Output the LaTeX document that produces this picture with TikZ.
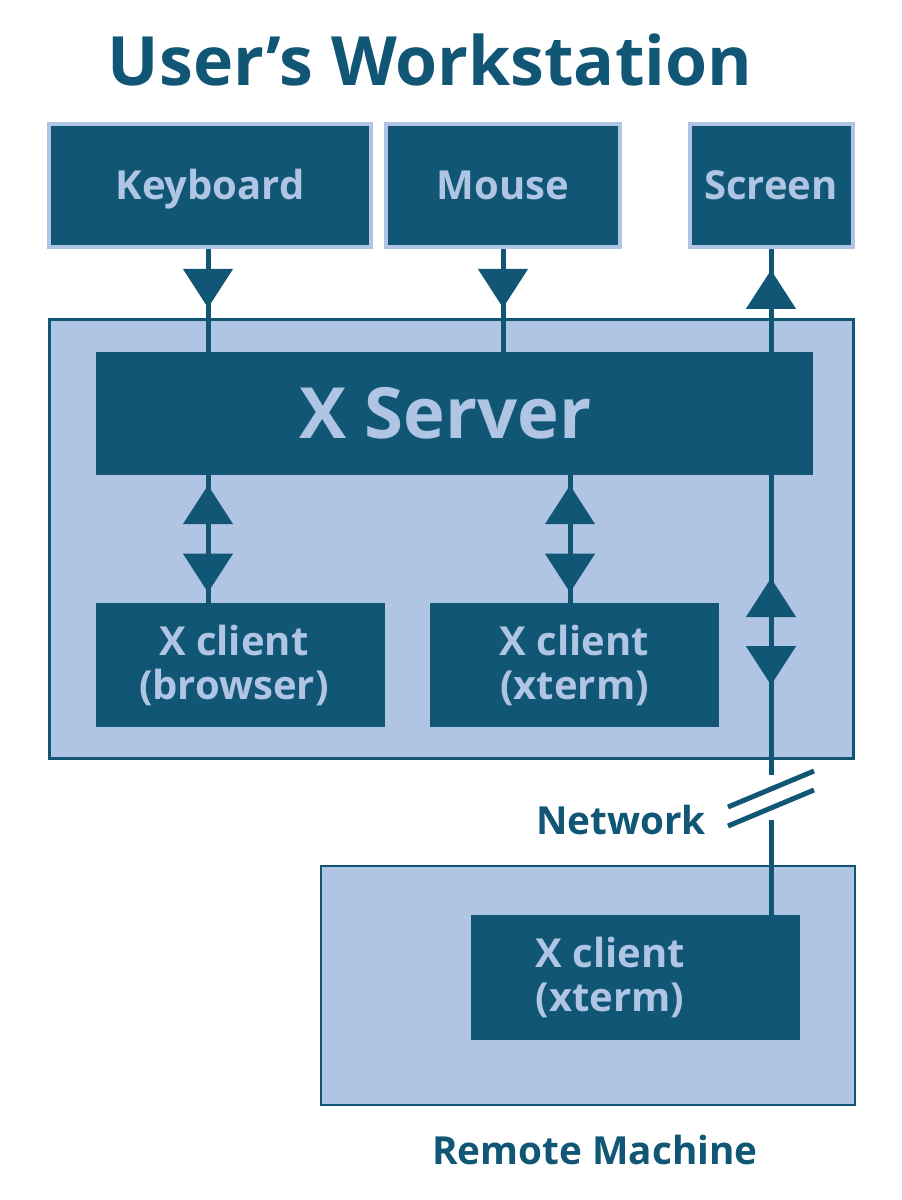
\documentclass[tikz,border=0pt]{standalone}
\usepackage{fontspec}
\setmainfont{Open Sans}
\usetikzlibrary{arrows.meta}
\usetikzlibrary{decorations.markings}
\usetikzlibrary{calc}

\definecolor{xdark}{RGB}{17,86,117}
\definecolor{xlight}{RGB}{176,196,228}

\tikzset{
	device/.style={draw=xlight, line width=3pt, fill=xdark, text=xlight, inner sep=0pt,
		font=\bfseries\fontsize{30}{33}\selectfont, minimum height=92.25pt,
		text height=21.5pt, text depth=0pt},
	inbox/.style={fill=xdark, text=xlight, inner sep=0pt, align=center,
		font=\bfseries\fontsize{30}{33}\selectfont},
	machine/.style={draw=xdark, fill=xlight, inner sep=0pt},
	caption/.style={text=xdark, inner sep=0pt, font=\bfseries\fontsize{29}{31}\selectfont},
	wire/.style={draw=xdark, line width=3.75pt},
	tipat/.style={postaction={decorate, decoration={markings,
		mark=at position #1 with {\arrow[xdark]{Triangle[length=29.25pt,width=36.75pt]}}}}},
	tipback/.style={postaction={decorate, decoration={markings,
		mark=at position #1 with {\arrowreversed[xdark]{Triangle[length=29.25pt,width=36.75pt]}}}}},
}

\begin{document}
\begin{tikzpicture}[x=0.75pt, y=-0.75pt]
	
	\useasboundingbox (0,0) rectangle (901,1200);
	
	\coordinate (lx) at (208,0);
	\coordinate (rx) at (570,0);
	\coordinate (netA) at (771,775);
	\coordinate (netB) at (771,820);
	
	% Titulo
	\node [caption, font=\bfseries\fontsize{51}{56}\selectfont] (title) at (430,60) {User’s Workstation};
	
	% Os dispositivos
	\node [device, minimum width=241.5pt] (kbd) at (210,185.5) {Keyboard};
	\node [device, minimum width=175.5pt] (mse) at (503,185.5) {Mouse};
	\node [device, minimum width=122.25pt] (scr) at (771,185.5) {Screen};
	
	% A estacao de trabalho
	\node [machine, line width=2.25pt, minimum width=603pt, minimum height=329.25pt] (ws) at (451.5,539) {};
	\node [inbox, minimum width=537.75pt, minimum height=92.25pt,
		label={[inbox, font=\bfseries\fontsize{53}{58}\selectfont, xshift=-7pt]center:X Server}] (xs) at (454.5,413.5) {};
	\node [inbox, minimum width=216.75pt, minimum height=93pt,
		label={[inbox, xshift=-5pt]center:{X client\\(browser)}}] (brw) at (240.5,665) {};
	\node [inbox, minimum width=216.75pt, minimum height=93pt] (xtm) at (574.5,665) {X client\\(xterm)};
	
	% A maquina remota
	\node [machine, line width=1.5pt, minimum width=400.5pt, minimum height=179.25pt] (rm) at (587.5,985) {};
	\node [inbox, minimum width=246.75pt, minimum height=93.75pt,
		label={[inbox, xshift=-19pt]center:{X client\\(xterm)}}] (rcl) at (635.5,977.5) {};
	
	% As setas dos dispositivos
	\draw [wire, tipat=0.573] (kbd.south -| lx) -- (xs.north -| lx);
	\draw [wire, tipat=0.573] (mse.south) -- (xs.north -| mse.south);
	\draw [wire, tipat=0.796] (xs.north -| netA) -- (scr.south -| netA);
	
	% As setas dos clientes
	\draw [wire, tipback=0.078, tipat=0.92] (xs.south -| lx) -- (brw.north -| lx);
	\draw [wire, tipback=0.078, tipat=0.92] (xs.south -| rx) -- (xtm.north -| rx);
	
	% A rede
	\draw [wire, tipback=0.343, tipat=0.70] (xs.south -| netA) -- (netA);
	\draw [wire] (netB) -- (rcl.north -| netB);
	\draw [wire] ($(netA)+(-43,32)$) -- ($(netA)+(43,-4)$);
	\draw [wire] ($(netA)+(-43,51)$) -- ($(netA)+(43,15)$);
	
	% Rotulos
	\node [caption] (net) at (621,820) {Network};
	\node [caption] (rmlabel) at (595,1150) {Remote Machine};
	
\end{tikzpicture}
\end{document}
